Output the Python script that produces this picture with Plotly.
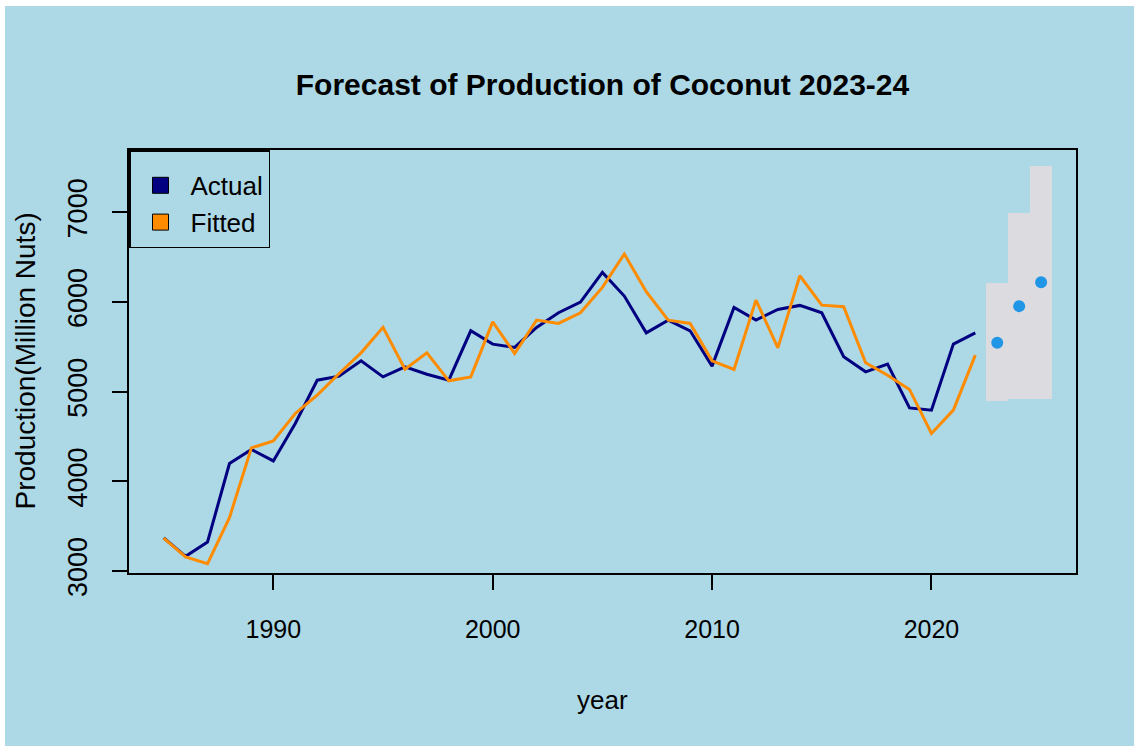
import plotly.graph_objects as go

# ---- data ----
years = list(range(1985, 2023))
actual = [3370, 3165, 3325, 4200, 4356, 4229, 4646, 5129, 5174, 5345, 5166, 5278,
          5196, 5129, 5680, 5531, 5494, 5718, 5881, 6000, 6331, 6067, 5657, 5799,
          5680, 5286, 5941, 5799, 5918, 5963, 5881, 5390, 5222, 5308, 4820, 4795,
          5531, 5657]
fitted = [3369, 3158, 3083, 3597, 4374, 4452, 4758, 4962, 5204, 5434, 5718, 5252,
          5434, 5122, 5166, 5780, 5427, 5799, 5762, 5881, 6164, 6536, 6115, 5799,
          5762, 5345, 5249, 6022, 5490, 6294, 5966, 5948, 5323, 5185, 5026, 4535,
          4795, 5408]
fc_years = [2023, 2024, 2025]
fc_point = [5547, 5955, 6220]
fc_lower = [4895, 4914, 4914]
fc_upper = [6209, 6990, 7515]
x_ticks = [1990, 2000, 2010, 2020]
y_ticks = [3000, 4000, 5000, 6000, 7000]

BG = "#ADD8E6"
FONT = "Liberation Sans, Arial, sans-serif"

fig = go.Figure()

# prediction interval blocks
fig.add_trace(go.Bar(
    x=fc_years, base=fc_lower, y=[u - l for u, l in zip(fc_upper, fc_lower)],
    width=1, marker=dict(color="#DCDCE0", line=dict(width=0)),
    showlegend=False, hoverinfo="skip"))

fig.add_trace(go.Scatter(x=years, y=actual, mode="lines",
                         line=dict(color="#000080", width=3), showlegend=False))
fig.add_trace(go.Scatter(x=years, y=fitted, mode="lines",
                         line=dict(color="#FF8C00", width=3), showlegend=False))
fig.add_trace(go.Scatter(x=fc_years, y=fc_point, mode="markers",
                         marker=dict(color="#2196E6", size=12), showlegend=False))

# legend entries (filled squares like base-R legend)
for name, col in [("Actual", "#000080"), ("Fitted", "#FF8C00")]:
    fig.add_trace(go.Scatter(x=[None], y=[None], mode="markers", name=name,
                             marker=dict(symbol="square", size=16, color=col,
                                         line=dict(color="black", width=1))))

fig.update_layout(
    width=1129, height=740,
    margin=dict(l=124, r=58, t=144, b=173),
    paper_bgcolor=BG, plot_bgcolor=BG,
    font=dict(family=FONT, color="black"),
    title=dict(text="<b>Forecast of Production of Coconut 2023-24</b>",
               x=0.5, xref="paper", y=1 - 78 / 740, yref="container",
               xanchor="center", yanchor="middle",
               font=dict(size=30, family=FONT, color="black")),
    showlegend=True,
    legend=dict(x=0, y=1, xanchor="left", yanchor="top",
                bgcolor=BG, bordercolor="black", borderwidth=1.5,
                font=dict(size=26, family=FONT, color="black"),
                title=dict(text="&nbsp;", font=dict(size=8)),
                itemsizing="trace", itemwidth=50),
    bargap=0,
)

fig.update_xaxes(range=[1983.42, 2026.59], tickvals=x_ticks,
                 ticktext=[str(v) for v in x_ticks],
                 ticks="outside", ticklen=15, tickwidth=1.5, tickcolor="black",
                 showline=True, mirror=True, linecolor="black", linewidth=1.5,
                 showgrid=False, zeroline=False,
                 tickfont=dict(size=25, family=FONT, color="black"),
                 ticklabelstandoff=18)
fig.update_yaxes(range=[2979, 7696], tickvals=y_ticks,
                 ticktext=[str(v) for v in y_ticks],
                 ticks="outside", ticklen=15, tickwidth=1.5, tickcolor="black",
                 showline=True, mirror=True, linecolor="black", linewidth=1.5,
                 showgrid=False, zeroline=False, tickangle=-90,
                 tickfont=dict(size=27, family=FONT, color="black"),
                 ticklabelstandoff=14)

fig.add_annotation(text="year", xref="paper", yref="paper",
                   x=0.5, y=(567 - 694) / 423, xanchor="center", yanchor="middle",
                   showarrow=False, font=dict(size=26, family=FONT, color="black"))
fig.add_annotation(text="Production(Million Nuts)", xref="paper", yref="paper",
                   x=(20 - 124) / 947, y=0.5, xanchor="center", yanchor="middle",
                   textangle=-90, showarrow=False,
                   font=dict(size=28, family=FONT, color="black"))

fig.write_html("out.html",
               post_script="document.body.style.margin='0';"
                           "document.body.style.padding='6px 0 0 5px';"
                           "document.body.style.overflow='hidden';"
                           "document.body.style.background='white';")
